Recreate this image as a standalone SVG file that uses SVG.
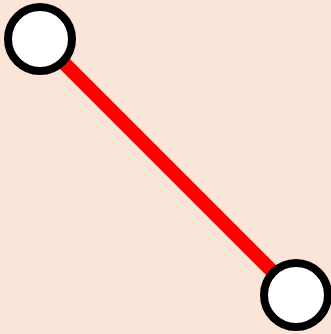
<svg xmlns="http://www.w3.org/2000/svg" width="331" height="334" viewBox="0 0 331 334">
<style>
.node{fill:#ffffff;stroke:#000000;stroke-width:8}
.edge{stroke:#ff0000;stroke-width:14;fill:none}
</style>
<rect x="0" y="0" width="331" height="334" fill="#fbe5d8"/>
<g id="connectors">
<line class="edge" x1="40" y1="39" x2="296" y2="295"/>
</g>
<g id="node1"><circle class="node" cx="40" cy="39" r="32"/></g>
<g id="node2"><circle class="node" cx="296" cy="295" r="32"/></g>
</svg>
